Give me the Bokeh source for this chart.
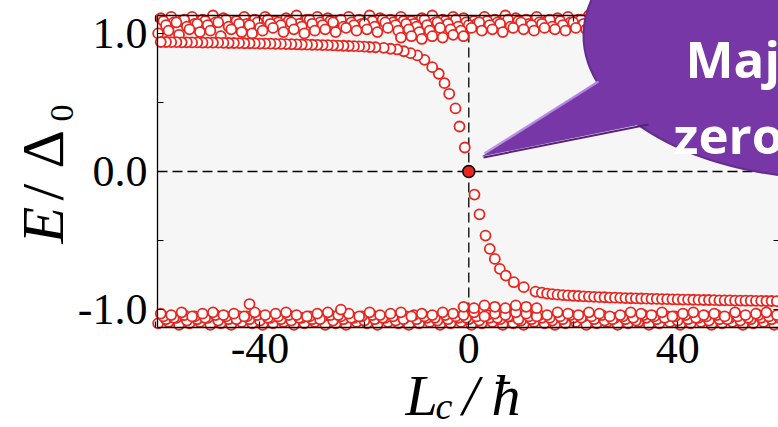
import math
from bokeh.plotting import figure
from bokeh.models import Range1d, FixedTicker, PrintfTickFormatter, Label, LinearAxis
from bokeh.embed import file_html
from bokeh.resources import INLINE
from bokeh.core.properties import value

# ---------------- data ----------------
x_major_ticks = [-40, 0, 40]
x_minor_ticks = [-60, -20, 20, 60]
y_major_ticks = [-1.0, 0.0, 1.0]
y_minor_ticks = [-0.5, 0.5]

band_x_odd = list(range(-59, 60, 2))
band_x_even = list(range(-58, 59, 2))
band_x_half = [v + 0.5 for v in range(-60, 59, 2)]
band_x_half2 = [v + 0.5 for v in range(-59, 60, 2)]

upper_row1 = [1.11, 1.12, 1.09, 1.12, 1.10, 1.13, 1.11, 1.08, 1.12, 1.10,
              1.12, 1.09, 1.11, 1.13, 1.10, 1.12, 1.11, 1.09, 1.12, 1.10,
              1.13, 1.11, 1.10, 1.12, 1.09, 1.11, 1.13, 1.10, 1.12, 1.11,
              1.09, 1.12, 1.10, 1.13, 1.11, 1.10, 1.12, 1.09, 1.11, 1.12,
              1.10, 1.13, 1.11, 1.09, 1.12, 1.10, 1.11, 1.13, 1.10, 1.12,
              1.09, 1.11, 1.12, 1.10, 1.13, 1.11, 1.09, 1.12, 1.10, 1.11]
upper_row2 = [1.06, 1.08, 1.05, 1.07, 1.06, 1.08, 1.05, 1.07, 1.06, 1.04,
              1.07, 1.06, 1.08, 1.05, 1.07, 1.06, 1.08, 1.05, 1.06, 1.07,
              1.05, 1.08, 1.06, 1.07, 1.05, 1.06, 1.08, 1.07, 1.05, 1.06,
              1.08, 1.06, 1.07, 1.05, 1.08, 1.06, 1.07, 1.05, 1.06, 1.08,
              1.07, 1.05, 1.06, 1.08, 1.06, 1.07, 1.05, 1.08, 1.06, 1.07,
              1.05, 1.06, 1.08, 1.07, 1.05, 1.06, 1.08, 1.06, 1.07]
upper_row3 = [1.00, 1.02, 0.99, 1.03, 1.01, 1.02, 0.98, 1.03, 1.01, 1.00,
              1.02, 1.04, 1.01, 1.03, 1.00, 1.02, 1.03, 1.01, 1.04, 1.02,
              1.03, 1.01, 1.04, 1.02, 1.03, 1.01, 1.02, 1.04, 1.03, 1.02,
              1.04, 1.02, 1.03, 1.01, 1.04, 1.03, 1.02, 1.04, 1.03, 1.02,
              1.04, 1.03, 1.02, 1.04, 1.03, 1.05, 1.02, 1.04, 1.03, 1.02,
              1.04, 1.03, 1.05, 1.02, 1.04, 1.03, 1.02, 1.04, 1.03, 1.04]
upper_row4 = [1.09, 1.08, 1.10, 1.07, 1.09, 1.08, 1.10, 1.09, 1.07, 1.08,
              1.10, 1.08, 1.09, 1.07, 1.10, 1.08, 1.09, 1.10, 1.08, 1.07,
              1.09, 1.10, 1.08, 1.09, 1.07, 1.10, 1.08, 1.09, 1.10, 1.08,
              1.07, 1.09, 1.08, 1.10, 1.09, 1.07, 1.08, 1.10, 1.09, 1.08,
              1.10, 1.07, 1.09, 1.08, 1.10, 1.09, 1.08, 1.07, 1.09, 1.10,
              1.08, 1.09, 1.07, 1.10, 1.08, 1.09, 1.10, 1.08, 1.09, 1.07]
upper_extra_x = [-13, -11, -9, -7, -5, -3, -1]
upper_extra_y = [0.97, 0.98, 0.96, 0.98, 0.97, 0.99, 0.98]

lower_row1 = [-1.03, -1.04, -1.02, -1.05, -1.03, -1.02, -1.04, -1.03, -1.05, -1.02,
              -1.04, -1.03, -1.02, -1.04, -1.05, -1.03, -1.02, -1.04, -1.03, -1.05,
              -1.02, -1.04, -1.03, -1.02, -1.05, -1.03, -1.04, -1.02, -1.03, -1.04,
              -1.02, -1.05, -1.03, -1.04, -1.02, -1.03, -1.05, -1.04, -1.02, -1.03,
              -1.04, -1.02, -1.03, -1.05, -1.04, -1.02, -1.03, -1.04, -1.02, -1.05,
              -1.03, -1.02, -1.04, -1.03, -1.05, -1.02, -1.04, -1.03, -1.02, -1.04]
lower_row2 = [-1.07, -1.06, -1.08, -1.07, -1.06, -1.08, -1.07, -1.05, -1.07, -1.08,
              -1.06, -1.07, -1.08, -1.06, -1.07, -1.05, -1.08, -1.07, -1.06, -1.08,
              -1.07, -1.06, -1.08, -1.05, -1.07, -1.06, -1.08, -1.07, -1.06, -1.07,
              -1.08, -1.06, -1.07, -1.05, -1.08, -1.07, -1.06, -1.08, -1.07, -1.06,
              -1.05, -1.07, -1.08, -1.06, -1.07, -1.08, -1.06, -1.07, -1.05, -1.08,
              -1.07, -1.06, -1.08, -1.07, -1.06, -1.08, -1.07, -1.06, -1.07]
lower_row3 = [-1.10, -1.09, -1.11, -1.10, -1.09, -1.11, -1.10, -1.11, -1.09, -1.10,
              -1.11, -1.10, -1.09, -1.11, -1.10, -1.09, -1.11, -1.10, -1.11, -1.09,
              -1.10, -1.11, -1.09, -1.10, -1.11, -1.10, -1.09, -1.11, -1.10, -1.09,
              -1.11, -1.10, -1.09, -1.11, -1.10, -1.11, -1.09, -1.10, -1.11, -1.10,
              -1.09, -1.11, -1.10, -1.09, -1.11, -1.10, -1.09, -1.11, -1.10, -1.09,
              -1.11, -1.10, -1.09, -1.11, -1.10, -1.09, -1.11, -1.10, -1.09, -1.11]
lower_row4 = [-1.05, -1.06, -1.04, -1.05, -1.06, -1.04, -1.05, -1.07, -1.05, -1.04,
              -1.06, -1.05, -1.04, -1.06, -1.05, -1.07, -1.04, -1.05, -1.06, -1.05,
              -1.04, -1.06, -1.05, -1.07, -1.04, -1.05, -1.06, -1.04, -1.05, -1.06,
              -1.05, -1.04, -1.06, -1.05, -1.07, -1.05, -1.04, -1.06, -1.05, -1.04,
              -1.06, -1.05, -1.04, -1.07, -1.05, -1.06, -1.04, -1.05, -1.06, -1.05,
              -1.04, -1.06, -1.05, -1.04, -1.07, -1.05, -1.06, -1.04, -1.05, -1.06]
lower_extra_x = [-42, -24.5, -1, 1, 3, 5, 7, 9, 11, 13]
lower_extra_y = [-0.96, -1.00, -0.98, -0.99, -0.97, -0.98, -0.99, -0.97, -0.98, -0.99]

# in-gap (Majorana) branch
curve_left_x = [-0.77, -1.78, -2.55, -3.75, -4.65, -5.75, -7.01, -8.49, -9.88, -11.17,
                -12.45, -13.71, -15.0, -16.3, -17.9] + list(range(-19, -60, -1))
curve_left_y = [0.174, 0.326, 0.457, 0.563, 0.640, 0.708, 0.756, 0.809, 0.841, 0.857,
                0.871, 0.884, 0.889, 0.896, 0.900,
                0.902, 0.904, 0.906, 0.908, 0.909, 0.911, 0.912, 0.914, 0.915, 0.916,
                0.917, 0.918, 0.919, 0.920, 0.921, 0.922, 0.923, 0.924, 0.925, 0.926,
                0.926, 0.927, 0.928, 0.929, 0.929, 0.930, 0.931, 0.931, 0.932, 0.933,
                0.933, 0.934, 0.934, 0.935, 0.935, 0.936, 0.936, 0.937, 0.937, 0.938, 0.938]
curve_right_x = [1.09, 2.05, 3.2, 4.02, 4.98, 5.94, 7.09, 8.62, 10.53, 12.78] + list(range(14, 60))
curve_right_y = [-0.167, -0.310, -0.464, -0.560, -0.633, -0.705, -0.754, -0.802, -0.838, -0.870,
                 -0.878, -0.884, -0.888, -0.892, -0.895, -0.898, -0.900, -0.902, -0.904, -0.906,
                 -0.908, -0.910, -0.911, -0.913, -0.914, -0.915, -0.917, -0.918, -0.919, -0.920,
                 -0.921, -0.922, -0.923, -0.924, -0.925, -0.926, -0.927, -0.928, -0.928, -0.929,
                 -0.930, -0.931, -0.931, -0.932, -0.933, -0.933, -0.934, -0.935, -0.935, -0.936,
                 -0.936, -0.937, -0.937, -0.938, -0.938, -0.939]
zero_mode_x = [0.0]
zero_mode_y = [0.0]

bubble_lines = ["Majorana", "zero mode"]

# ---------------- layout / style ----------------
RED = "#e8261f"
PURPLE = "#7837a6"
SERIF = "Liberation Serif"
W, H = 778, 427


def X(px):  # canvas pixel -> data x (for layout of frame / annotations)
    return (px - 468.3) / 5.221


def Y(py):
    return (171.0 - py) / 138.05


# spine box of the axes (canvas pixels)
BOX_L, BOX_R, BOX_T, BOX_B = 157, 779, 15, 327

p = figure(width=W, height=H, output_backend="svg", toolbar_location=None,
           x_range=Range1d(X(0), X(W)), y_range=Range1d(Y(H), Y(0)),
           x_axis_location=None, y_axis_location=None,
           min_border_left=0, min_border_right=0, min_border_top=0, min_border_bottom=0)
p.background_fill_color = "white"
p.border_fill_color = "white"
p.outline_line_color = None
p.grid.visible = False

# grey axes background
p.quad(left=[X(BOX_L)], right=[X(BOX_R)], bottom=[Y(BOX_B)], top=[Y(BOX_T)],
       fill_color="#f6f6f6", line_color=None, level="underlay")
# dashed guides at E=0 and Lc=0
p.line([X(BOX_L), X(BOX_R)], [0, 0], line_color="black", line_width=1.3,
       line_dash="10 5", level="underlay")
p.line([0, 0], [Y(BOX_B), Y(BOX_T)], line_color="black", line_width=1.3,
       line_dash="10 5", level="underlay")

bottom = LinearAxis(ticker=FixedTicker(ticks=x_major_ticks, minor_ticks=x_minor_ticks),
                    formatter=PrintfTickFormatter(format="%d"),
                    fixed_location=Y(BOX_B), bounds=(X(BOX_L), X(BOX_R)))
top = LinearAxis(ticker=FixedTicker(ticks=[], minor_ticks=x_major_ticks + x_minor_ticks),
                 fixed_location=Y(BOX_T), bounds=(X(BOX_L), X(BOX_R)))
left = LinearAxis(ticker=FixedTicker(ticks=y_major_ticks, minor_ticks=y_minor_ticks),
                  formatter=PrintfTickFormatter(format="%.1f"),
                  fixed_location=X(BOX_L), bounds=(Y(BOX_B), Y(BOX_T)))
right = LinearAxis(ticker=FixedTicker(ticks=[], minor_ticks=y_major_ticks + y_minor_ticks),
                   fixed_location=X(BOX_R), bounds=(Y(BOX_B), Y(BOX_T)))
p.add_layout(bottom, "below")
p.add_layout(top, "above")
p.add_layout(left, "left")
p.add_layout(right, "right")

for ax in (bottom, top, left, right):
    ax.axis_line_color = "black"
    ax.axis_line_width = 1.3
    ax.major_tick_in = 6
    ax.major_tick_out = 0
    ax.minor_tick_in = 6
    ax.minor_tick_out = 0
    ax.major_tick_line_color = "black"
    ax.minor_tick_line_color = "black"
    ax.major_tick_line_width = 1.2
    ax.minor_tick_line_width = 1.2
for ax in (bottom, left):
    ax.major_label_text_font = SERIF
    ax.major_label_text_font_size = "44px"
    ax.major_label_text_color = "black"
bottom.major_label_standoff = 6
left.major_label_standoff = 10

mk = dict(marker="circle", size=10, fill_color="white", line_color=RED, line_width=1.8)
p.scatter(band_x_odd, upper_row1, **mk)
p.scatter(band_x_half2, upper_row4, **mk)
p.scatter(band_x_even, upper_row2, **mk)
p.scatter(band_x_half, upper_row3, **mk)
p.scatter(upper_extra_x, upper_extra_y, **mk)
p.scatter(band_x_half, lower_row3, **mk)
p.scatter(band_x_even, lower_row2, **mk)
p.scatter(band_x_half2, lower_row4, **mk)
p.scatter(band_x_odd, lower_row1, **mk)
p.scatter(lower_extra_x, lower_extra_y, **mk)
p.scatter(curve_left_x, curve_left_y, **mk)
p.scatter(curve_right_x, curve_right_y, **mk)
p.scatter(zero_mode_x, zero_mode_y, marker="circle", size=12, fill_color=RED,
          line_color="black", line_width=1.5)

# speech bubble
p.ellipse(x=[X(833)], y=[Y(35)], width=[500 / 5.221], height=[286 / 138.05],
          fill_color=PURPLE, line_color="#642c8c", line_width=2, level="overlay")
p.patch([X(481), X(600), X(640), X(650)], [Y(156), Y(79), Y(60), Y(122)],
        fill_color=PURPLE, line_color=None, level="overlay")
p.line([X(484), X(598)], [Y(153), Y(81)], line_color="#b48be4", line_width=2.5,
       line_alpha=0.9, level="overlay")
p.line([X(483), X(648)], [Y(157), Y(124)], line_color="#55227a", line_width=2,
       level="overlay")
p.text(x=[X(685), X(673)], y=[Y(57), Y(133)], text=bubble_lines,
       text_font=value("Open Sans"), text_font_style="bold", text_font_size="51px",
       text_color="white", text_align="left", text_baseline="alphabetic", level="overlay")

# axis labels (math-style, built from pieces); anchored on the middle line
lab = dict(x_units="data", y_units="data", text_font=SERIF, text_color="black",
           text_baseline="middle", text_align="left")
p.add_layout(Label(x=X(42), y=Y(243), text="E", angle=math.pi / 2, text_font_size="60px",
                   text_font_style="italic", **lab))
p.add_layout(Label(x=X(42), y=Y(200), text="/", angle=math.pi / 2, text_font_size="60px", **lab))
p.add_layout(Label(x=X(42), y=Y(168), text="Δ", angle=math.pi / 2, text_font_size="60px", **lab))
p.add_layout(Label(x=X(61), y=Y(121), text="0", angle=math.pi / 2, text_font_size="34px", **lab))

p.add_layout(Label(x=X(405), y=Y(395), text="L", text_font_size="58px",
                   text_font_style="italic", **lab))
p.add_layout(Label(x=X(435), y=Y(405), text="c", text_font_size="38px",
                   text_font_style="italic", **lab))
p.add_layout(Label(x=X(462), y=Y(395), text="/", text_font_size="58px",
                   text_font_style="italic", **lab))
p.add_layout(Label(x=X(491), y=Y(395), text="ħ", text_font_size="58px",
                   text_font_style="italic", **lab))

open("out.html", "w").write(file_html(p, INLINE))
